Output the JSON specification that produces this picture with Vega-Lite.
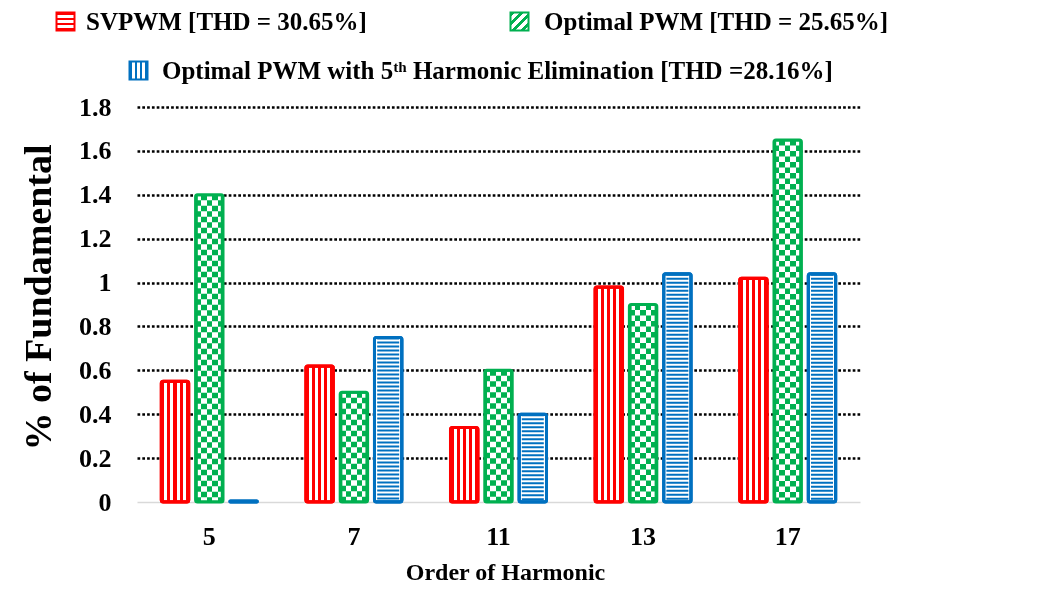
{
  "$schema": "https://vega.github.io/schema/vega-lite/v6.json",
  "width": 723,
  "height": 395,
  "autosize": {"type": "none"},
  "padding": {"left": 137, "top": 107, "right": 179, "bottom": 111},
  "background": "white",
  "config": {"view": {"stroke": null}, "font": "Liberation Serif"},
  "data": {
    "values": [
      {"h": "5", "s": "SVPWM [THD = 30.65%]", "v": 0.55},
      {"h": "7", "s": "SVPWM [THD = 30.65%]", "v": 0.62},
      {"h": "11", "s": "SVPWM [THD = 30.65%]", "v": 0.34},
      {"h": "13", "s": "SVPWM [THD = 30.65%]", "v": 0.98},
      {"h": "17", "s": "SVPWM [THD = 30.65%]", "v": 1.02},
      {"h": "5", "s": "Optimal PWM [THD = 25.65%]", "v": 1.40},
      {"h": "7", "s": "Optimal PWM [THD = 25.65%]", "v": 0.50},
      {"h": "11", "s": "Optimal PWM [THD = 25.65%]", "v": 0.60},
      {"h": "13", "s": "Optimal PWM [THD = 25.65%]", "v": 0.90},
      {"h": "17", "s": "Optimal PWM [THD = 25.65%]", "v": 1.65},
      {"h": "5", "s": "Optimal PWM with 5ᵗʰ Harmonic Elimination [THD =28.16%]", "v": 0.005},
      {"h": "7", "s": "Optimal PWM with 5ᵗʰ Harmonic Elimination [THD =28.16%]", "v": 0.75},
      {"h": "11", "s": "Optimal PWM with 5ᵗʰ Harmonic Elimination [THD =28.16%]", "v": 0.40},
      {"h": "13", "s": "Optimal PWM with 5ᵗʰ Harmonic Elimination [THD =28.16%]", "v": 1.04},
      {"h": "17", "s": "Optimal PWM with 5ᵗʰ Harmonic Elimination [THD =28.16%]", "v": 1.04}
    ]
  },
  "encoding": {
    "x": {
      "field": "h", "type": "nominal", "sort": ["5", "7", "11", "13", "17"],
      "scale": {"paddingInner": 0.336, "paddingOuter": 0.168},
      "axis": {
        "labelAngle": 0, "ticks": false, "grid": false,
        "domainColor": "#d9d9d9", "domainWidth": 1.5,
        "labelFont": "Liberation Serif", "labelFontWeight": "bold", "labelFontSize": 26, "labelColor": "black", "labelPadding": 21,
        "title": "Order of Harmonic", "titleFont": "Liberation Serif", "titleFontWeight": "bold", "titleFontSize": 24, "titleColor": "black",
        "titleX": 368, "titleY": 77, "titleBaseline": "alphabetic", "titleAlign": "center"
      }
    },
    "xOffset": {
      "field": "s", "type": "nominal",
      "scale": {
        "domain": ["SVPWM [THD = 30.65%]", "Optimal PWM [THD = 25.65%]", "Optimal PWM with 5ᵗʰ Harmonic Elimination [THD =28.16%]"],
        "paddingInner": 0.2
      }
    },
    "y": {
      "field": "v", "type": "quantitative",
      "scale": {"domain": [0, 1.8], "nice": false},
      "axis": {
        "values": [0, 0.2, 0.4, 0.6, 0.8, 1, 1.2, 1.4, 1.6, 1.8], "format": "~g",
        "domain": false, "ticks": false,
        "grid": true, "gridColor": "black", "gridWidth": 2.7, "gridDash": [2.7, 2.1],
        "gridOpacity": {"condition": {"test": "datum.value === 0", "value": 0}, "value": 1},
        "labelFont": "Liberation Serif", "labelFontWeight": "bold", "labelFontSize": 26, "labelColor": "black", "labelPadding": 26,
        "title": "% of  Fundamental", "titleFont": "Liberation Serif", "titleFontWeight": "bold", "titleFontSize": 38, "titleColor": "black",
        "titleX": -87, "titleY": 190, "titleBaseline": "alphabetic", "titleAlign": "center", "titleAngle": 270
      }
    }
  },
  "layer": [
    {
      "transform": [{"filter": {"field": "s", "equal": "SVPWM [THD = 30.65%]"}}],
      "mark": {
        "type": "bar", "strokeWidth": 3, "cornerRadius": 2, "stroke": "#FF0000",
        "fill": {"gradient": "linear", "x1": 0, "y1": 0, "x2": 1, "y2": 0, "stops": [
          {"offset": 0, "color": "#FF0000"}, {"offset": 0.111, "color": "#FF0000"},
          {"offset": 0.111, "color": "#FFFFFF"}, {"offset": 0.222, "color": "#FFFFFF"},
          {"offset": 0.222, "color": "#FF0000"}, {"offset": 0.333, "color": "#FF0000"},
          {"offset": 0.333, "color": "#FFFFFF"}, {"offset": 0.444, "color": "#FFFFFF"},
          {"offset": 0.444, "color": "#FF0000"}, {"offset": 0.556, "color": "#FF0000"},
          {"offset": 0.556, "color": "#FFFFFF"}, {"offset": 0.667, "color": "#FFFFFF"},
          {"offset": 0.667, "color": "#FF0000"}, {"offset": 0.778, "color": "#FF0000"},
          {"offset": 0.778, "color": "#FFFFFF"}, {"offset": 0.889, "color": "#FFFFFF"},
          {"offset": 0.889, "color": "#FF0000"}, {"offset": 1, "color": "#FF0000"}
        ]}
      }
    },
    {
      "transform": [{"filter": {"field": "s", "equal": "SVPWM [THD = 30.65%]"}}],
      "mark": {
        "type": "bar", "strokeWidth": 3, "cornerRadius": 2, "fillOpacity": 0,
        "fill": {"gradient": "linear", "x1": 0, "y1": 0, "x2": 0, "y2": 1, "stops": [
          {"offset": 0, "color": "#FF0000"}, {"offset": 0.143, "color": "#FF0000"},
          {"offset": 0.143, "color": "#FFFFFF"}, {"offset": 0.286, "color": "#FFFFFF"},
          {"offset": 0.286, "color": "#FF0000"}, {"offset": 0.429, "color": "#FF0000"},
          {"offset": 0.429, "color": "#FFFFFF"}, {"offset": 0.571, "color": "#FFFFFF"},
          {"offset": 0.571, "color": "#FF0000"}, {"offset": 0.714, "color": "#FF0000"},
          {"offset": 0.714, "color": "#FFFFFF"}, {"offset": 0.857, "color": "#FFFFFF"},
          {"offset": 0.857, "color": "#FF0000"}, {"offset": 1, "color": "#FF0000"}
        ]}
      },
      "encoding": {
        "stroke": {
          "field": "s", "type": "nominal",
          "scale": {"domain": ["SVPWM [THD = 30.65%]"], "range": ["#FF0000"]},
          "legend": {
            "orient": "none", "legendX": -84, "legendY": -98, "title": null, "padding": 0,
            "symbolType": "square", "symbolSize": 324, "symbolStrokeWidth": 2,
            "labelFont": "Liberation Serif", "labelFontSize": 25, "labelFontWeight": "bold", "labelColor": "black", "labelLimit": 1000, "labelOffset": 8
          }
        }
      }
    },
    {
      "transform": [{"filter": {"field": "s", "equal": "Optimal PWM [THD = 25.65%]"}}],
      "mark": {
        "type": "bar", "strokeWidth": 0,
        "fill": {"gradient": "linear", "x1": 0, "y1": 0, "x2": 1, "y2": 0, "stops": [
          {"offset": 0, "color": "#000000"}, {"offset": 0.2, "color": "#000000"},
          {"offset": 0.2, "color": "#FFFFFF"}, {"offset": 0.4, "color": "#FFFFFF"},
          {"offset": 0.4, "color": "#000000"}, {"offset": 0.6, "color": "#000000"},
          {"offset": 0.6, "color": "#FFFFFF"}, {"offset": 0.8, "color": "#FFFFFF"},
          {"offset": 0.8, "color": "#000000"}, {"offset": 1, "color": "#000000"}
        ]}
      }
    },
    {
      "transform": [{"filter": {"field": "s", "equal": "Optimal PWM [THD = 25.65%]"}}],
      "mark": {"type": "rule", "stroke": "#FFFFFF", "strokeWidth": 23, "strokeDash": [5.5, 5.5], "strokeCap": "butt", "blend": "difference"},
      "encoding": {"y2": {"datum": 0}}
    },
    {
      "transform": [{"filter": {"field": "s", "equal": "Optimal PWM [THD = 25.65%]"}}],
      "mark": {"type": "bar", "strokeWidth": 0, "fill": "#00B050", "blend": "screen"}
    },
    {
      "transform": [{"filter": {"field": "s", "equal": "Optimal PWM [THD = 25.65%]"}}],
      "mark": {
        "type": "bar", "strokeWidth": 3, "cornerRadius": 2, "fillOpacity": 0,
        "fill": {"gradient": "linear", "x1": 0, "y1": 0, "x2": 1, "y2": 1, "stops": [
          {"offset": 0, "color": "#00B050"}, {"offset": 0.125, "color": "#00B050"},
          {"offset": 0.125, "color": "#FFFFFF"}, {"offset": 0.25, "color": "#FFFFFF"},
          {"offset": 0.25, "color": "#00B050"}, {"offset": 0.375, "color": "#00B050"},
          {"offset": 0.375, "color": "#FFFFFF"}, {"offset": 0.5, "color": "#FFFFFF"},
          {"offset": 0.5, "color": "#00B050"}, {"offset": 0.625, "color": "#00B050"},
          {"offset": 0.625, "color": "#FFFFFF"}, {"offset": 0.75, "color": "#FFFFFF"},
          {"offset": 0.75, "color": "#00B050"}, {"offset": 0.875, "color": "#00B050"},
          {"offset": 0.875, "color": "#FFFFFF"}, {"offset": 1, "color": "#FFFFFF"}
        ]}
      },
      "encoding": {
        "stroke": {
          "field": "s", "type": "nominal",
          "scale": {"domain": ["Optimal PWM [THD = 25.65%]"], "range": ["#00B050"]},
          "legend": {
            "orient": "none", "legendX": 370, "legendY": -98, "title": null, "padding": 0,
            "symbolType": "square", "symbolSize": 324, "symbolStrokeWidth": 2,
            "labelFont": "Liberation Serif", "labelFontSize": 25, "labelFontWeight": "bold", "labelColor": "black", "labelLimit": 1000, "labelOffset": 12
          }
        }
      }
    },
    {
      "transform": [{"filter": {"field": "s", "equal": "Optimal PWM with 5ᵗʰ Harmonic Elimination [THD =28.16%]"}}],
      "mark": {"type": "bar", "strokeWidth": 3, "cornerRadius": 2, "fill": "#FFFFFF", "stroke": "#0070C0"}
    },
    {
      "transform": [{"filter": {"field": "s", "equal": "Optimal PWM with 5ᵗʰ Harmonic Elimination [THD =28.16%]"}}],
      "mark": {"type": "rule", "stroke": "#0070C0", "strokeWidth": 22, "strokeDash": [2, 2], "strokeCap": "butt"},
      "encoding": {"y2": {"datum": 0}}
    },
    {
      "transform": [{"filter": {"field": "s", "equal": "Optimal PWM with 5ᵗʰ Harmonic Elimination [THD =28.16%]"}}],
      "mark": {
        "type": "bar", "strokeWidth": 3, "cornerRadius": 2, "fillOpacity": 0,
        "fill": {"gradient": "linear", "x1": 0, "y1": 0, "x2": 1, "y2": 0, "stops": [
          {"offset": 0, "color": "#0070C0"}, {"offset": 0.143, "color": "#0070C0"},
          {"offset": 0.143, "color": "#FFFFFF"}, {"offset": 0.286, "color": "#FFFFFF"},
          {"offset": 0.286, "color": "#0070C0"}, {"offset": 0.429, "color": "#0070C0"},
          {"offset": 0.429, "color": "#FFFFFF"}, {"offset": 0.571, "color": "#FFFFFF"},
          {"offset": 0.571, "color": "#0070C0"}, {"offset": 0.714, "color": "#0070C0"},
          {"offset": 0.714, "color": "#FFFFFF"}, {"offset": 0.857, "color": "#FFFFFF"},
          {"offset": 0.857, "color": "#0070C0"}, {"offset": 1, "color": "#0070C0"}
        ]}
      },
      "encoding": {
        "stroke": {
          "field": "s", "type": "nominal",
          "scale": {"domain": ["Optimal PWM with 5ᵗʰ Harmonic Elimination [THD =28.16%]"], "range": ["#0070C0"]},
          "legend": {
            "orient": "none", "legendX": -11, "legendY": -49, "title": null, "padding": 0,
            "symbolType": "square", "symbolSize": 324, "symbolStrokeWidth": 2,
            "labelFont": "Liberation Serif", "labelFontSize": 25, "labelFontWeight": "bold", "labelColor": "black", "labelLimit": 1000, "labelOffset": 11
          }
        }
      }
    }
  ],
  "resolve": {"scale": {"stroke": "independent"}, "legend": {"stroke": "independent"}}
}
